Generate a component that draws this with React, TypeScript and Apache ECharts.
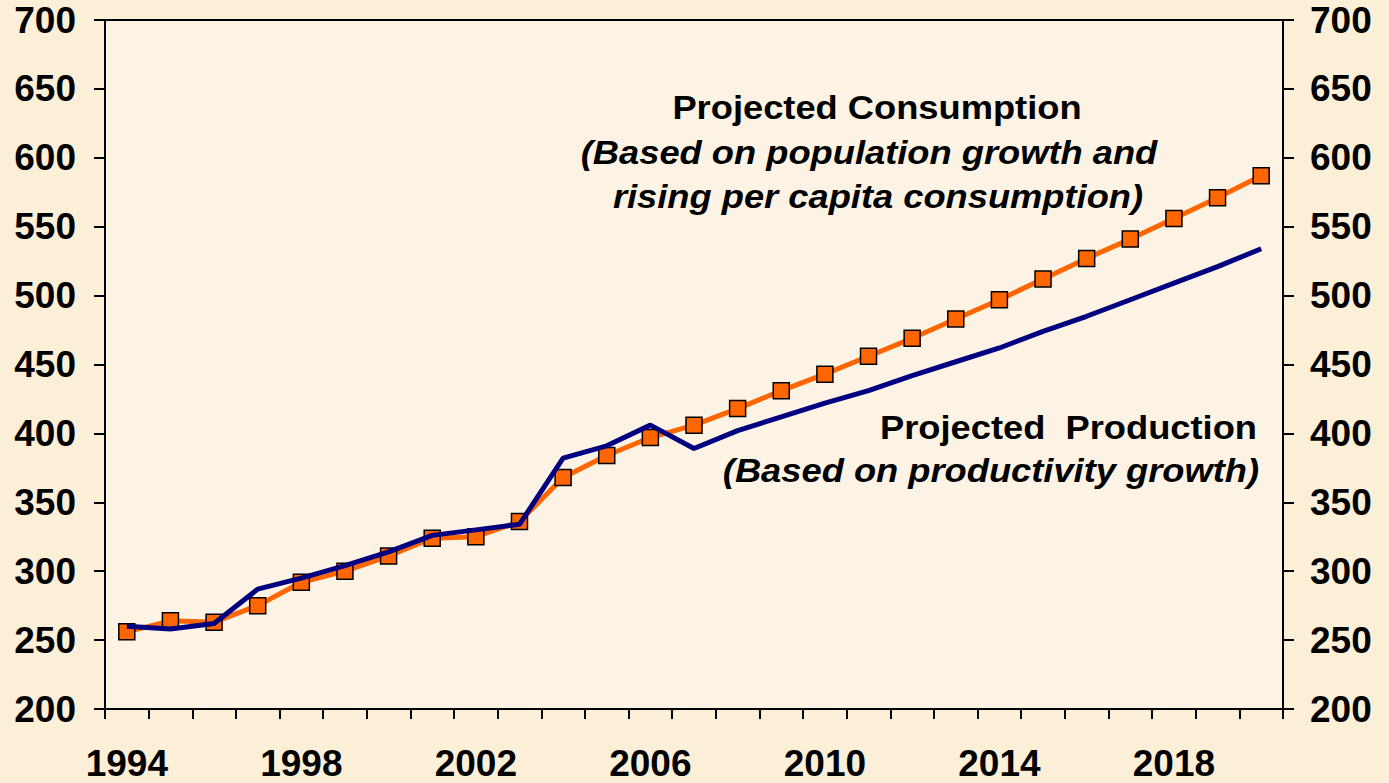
import React, { useEffect, useRef } from "react";
import * as echarts from "echarts";

const years = [
  "1994", "1995", "1996", "1997", "1998", "1999", "2000", "2001", "2002",
  "2003", "2004", "2005", "2006", "2007", "2008", "2009", "2010", "2011",
  "2012", "2013", "2014", "2015", "2016", "2017", "2018", "2019", "2020",
];

const consumption = [
  256, 264, 263, 275, 292, 300, 311, 324, 325, 336, 368, 384, 397, 406,
  418, 431, 443, 456, 469, 483, 497, 512, 527, 541, 556, 571, 587,
];

const production = [
  260, 258, 262, 287, 295, 304, 314, 326, 330, 334, 382, 391, 406, 389,
  402, 412, 422, 431, 442, 452, 462, 474, 485, 497, 509, 521, 534,
];

const consumptionNote = [
  "Projected Consumption",
  "(Based on population growth and",
  "rising per capita consumption)",
];

const productionNote = ["Projected  Production", "(Based on productivity growth)"];

const FONT = "'Liberation Sans', Arial, sans-serif";

export default function App() {
  const ref = useRef<HTMLDivElement>(null);

  useEffect(() => {
    if (!ref.current) return;
    const chart = echarts.init(ref.current, undefined, { renderer: "svg" });

    const axisCommon = {
      type: "value" as const,
      min: 200,
      max: 700,
      interval: 50,
      splitLine: { show: false },
      axisLine: { show: true, lineStyle: { color: "#000", width: 2 } },
      axisTick: { show: true, length: 11, lineStyle: { color: "#000", width: 2 } },
    };

    const labelStyle = {
      fontSize: 37,
      fontWeight: "bold" as const,
      color: "#000",
      fontFamily: FONT,
    };

    const noteText = (
      text: string,
      x: number,
      y: number,
      align: string,
      italic: boolean
    ) => ({
      type: "text",
      x,
      y,
      scaleX: 1.1,
      z: 10,
      style: {
        text,
        fill: "#000",
        fontSize: 33,
        fontWeight: "bold",
        fontStyle: italic ? "italic" : "normal",
        fontFamily: FONT,
        textAlign: align,
        textVerticalAlign: "middle",
      },
    });

    chart.setOption({
      animation: false,
      backgroundColor: "#FCEFD8",
      grid: {
        left: 105,
        right: 106,
        top: 20,
        bottom: 74,
        show: true,
        backgroundColor: "#FDF3E4",
        borderColor: "#000",
        borderWidth: 2,
      },
      xAxis: {
        type: "category",
        data: years,
        boundaryGap: true,
        axisLine: { show: true, lineStyle: { color: "#000", width: 2 } },
        axisTick: {
          show: true,
          interval: 0,
          length: 10,
          lineStyle: { color: "#000", width: 2 },
        },
        axisLabel: { ...labelStyle, interval: 3, margin: 36 },
        splitLine: { show: false },
      },
      yAxis: [
        { ...axisCommon, position: "left", axisLabel: { ...labelStyle, margin: 29 } },
        { ...axisCommon, position: "right", axisLabel: { ...labelStyle, margin: 27 } },
      ],
      series: [
        {
          name: "Consumption",
          type: "line",
          data: consumption,
          yAxisIndex: 0,
          symbol: "rect",
          symbolSize: 16,
          lineStyle: { color: "#FF6600", width: 5 },
          itemStyle: { color: "#FF6600", borderColor: "#000", borderWidth: 1.5 },
          z: 2,
        },
        {
          name: "Production",
          type: "line",
          data: production,
          yAxisIndex: 0,
          symbol: "none",
          lineStyle: { color: "#000080", width: 5 },
          z: 3,
        },
      ],
      graphic: [
        noteText(consumptionNote[0], 877, 108, "center", false),
        noteText(consumptionNote[1], 869, 153, "center", true),
        noteText(consumptionNote[2], 878, 197, "center", true),
        noteText(productionNote[0], 1257, 428, "right", false),
        noteText(productionNote[1], 1259, 471, "right", true),
      ],
    });

    return () => chart.dispose();
  }, []);

  return (
    <div
      ref={ref}
      style={{ position: "fixed", left: 0, top: 0, width: 1389, height: 783 }}
    />
  );
}
